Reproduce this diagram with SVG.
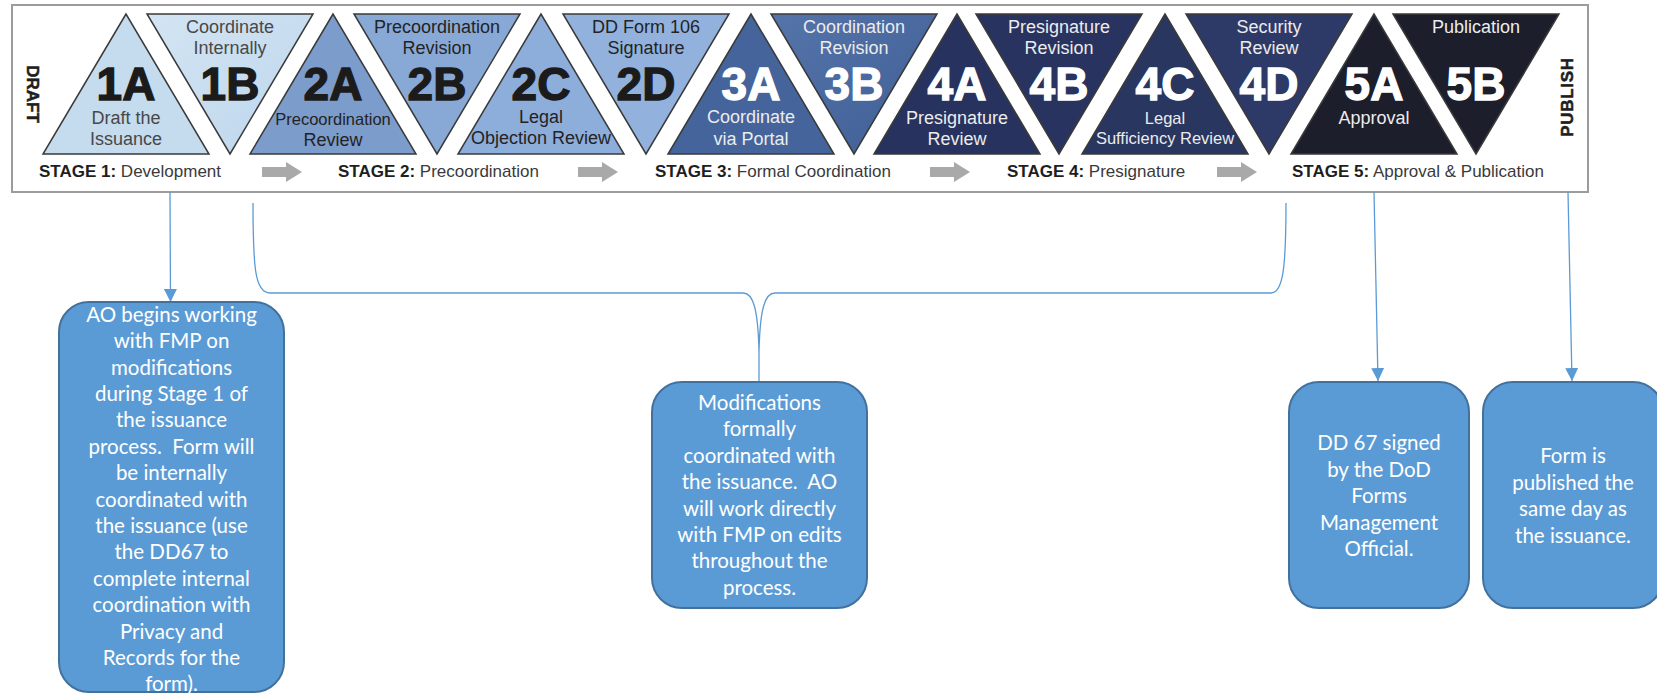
<svg xmlns="http://www.w3.org/2000/svg" width="1657" height="693" viewBox="0 0 1657 693">
<style>
.frame{fill:#fff;stroke:#9c9c9c;stroke-width:2}
.tri{stroke:#3a3a3a;stroke-width:1.5;stroke-linejoin:miter}
.big{font-family:"Liberation Sans",Arial,sans-serif;font-weight:bold;font-size:46px;text-anchor:middle;stroke-width:1.3}
.sm{font-family:"Liberation Sans",Arial,sans-serif;font-size:18px;text-anchor:middle}
.sm16{font-size:16.5px}
.bk{fill:#1b1b1b;stroke:#1b1b1b}
.wh{fill:#ffffff;stroke:#ffffff}
.g1{fill:#484848}
.g2{fill:#232323}
.lw{fill:#ececec}
.stg{font-family:"Liberation Sans",Arial,sans-serif;font-size:17px;fill:#3a3a3a}
.stg tspan.b{font-weight:bold;fill:#1e1e1e}
.vert{font-family:"Liberation Sans",Arial,sans-serif;font-weight:bold;font-size:17px;fill:#1e1e1e;text-anchor:middle;stroke:#1e1e1e;stroke-width:0.5}
.sarrow{fill:#a9a9a9}
.box{fill:#5b9bd5;stroke:#41719c;stroke-width:2}
.bt{font-family:Lato,"Liberation Sans",sans-serif;font-size:20.5px;fill:#ffffff;text-anchor:middle;white-space:pre}
.conn{fill:none;stroke:#5b9bd5;stroke-width:1.3}
</style>
<defs>
<marker id="ah" viewBox="0 0 10 10" refX="10" refY="5" markerWidth="13" markerHeight="13" markerUnits="userSpaceOnUse" orient="auto">
<path d="M0,0 L10,5 L0,10 z" fill="#5b9bd5"/>
</marker>
<linearGradient id="g1b" x1="0" y1="0" x2="1" y2="1">
<stop offset="0" stop-color="#d3e5f4"/><stop offset="1" stop-color="#bdd5eb"/>
</linearGradient>
<linearGradient id="g3b" x1="0" y1="0" x2="1" y2="1">
<stop offset="0" stop-color="#5574aa"/><stop offset="1" stop-color="#3f5e95"/>
</linearGradient>
</defs>

<rect class="frame" x="12" y="5" width="1576" height="187"/>

<g id="label-draft"><text class="vert" transform="translate(27,94) rotate(90)">DRAFT</text></g>
<g id="label-publish"><text class="vert" style="letter-spacing:0.7px" transform="translate(1573,97) rotate(-90)">PUBLISH</text></g>

<g id="step-1A">
<polygon class="tri" fill="#c5dbee" points="126,14 43,154 209,154"/>
<text class="big bk" x="126" y="100">1A</text>
<text class="sm g1" x="126" y="124">Draft the</text>
<text class="sm g1" x="126" y="145">Issuance</text>
</g>
<g id="step-1B">
<polygon class="tri" fill="url(#g1b)" points="147,14 313,14 230,154"/>
<text class="sm g1" x="230" y="33">Coordinate</text>
<text class="sm g1" x="230" y="54">Internally</text>
<text class="big bk" x="230" y="100">1B</text>
</g>
<g id="step-2A">
<polygon class="tri" fill="#7c9ccb" points="333,14 250,154 416,154"/>
<text class="big bk" x="333" y="100">2A</text>
<text class="sm sm16 g2" x="333" y="125">Precoordination</text>
<text class="sm g2" x="333" y="146">Review</text>
</g>
<g id="step-2B">
<polygon class="tri" fill="#88a8d6" points="354,14 520,14 437,154"/>
<text class="sm g2" x="437" y="33">Precoordination</text>
<text class="sm g2" x="437" y="54">Revision</text>
<text class="big bk" x="437" y="100">2B</text>
</g>
<g id="step-2C">
<polygon class="tri" fill="#8daddb" points="541,14 458,154 624,154"/>
<text class="big bk" x="541" y="100">2C</text>
<text class="sm g2" x="541" y="123">Legal</text>
<text class="sm g2" x="541" y="144">Objection Review</text>
</g>
<g id="step-2D">
<polygon class="tri" fill="#92b2dd" points="563,14 729,14 646,154"/>
<text class="sm g2" x="646" y="33">DD Form 106</text>
<text class="sm g2" x="646" y="54">Signature</text>
<text class="big bk" x="646" y="100">2D</text>
</g>
<g id="step-3A">
<polygon class="tri" fill="#44649b" points="751,14 668,154 834,154"/>
<text class="big wh" x="751" y="100">3A</text>
<text class="sm lw" x="751" y="123">Coordinate</text>
<text class="sm lw" x="751" y="145">via Portal</text>
</g>
<g id="step-3B">
<polygon class="tri" fill="url(#g3b)" points="771,14 937,14 854,154"/>
<text class="sm lw" x="854" y="33">Coordination</text>
<text class="sm lw" x="854" y="54">Revision</text>
<text class="big wh" x="854" y="100">3B</text>
</g>
<g id="step-4A">
<polygon class="tri" fill="#27335e" points="957,14 874,154 1040,154"/>
<text class="big wh" x="957" y="100">4A</text>
<text class="sm lw" x="957" y="124">Presignature</text>
<text class="sm lw" x="957" y="145">Review</text>
</g>
<g id="step-4B">
<polygon class="tri" fill="#28345f" points="976,14 1142,14 1059,154"/>
<text class="sm lw" x="1059" y="33">Presignature</text>
<text class="sm lw" x="1059" y="54">Revision</text>
<text class="big wh" x="1059" y="100">4B</text>
</g>
<g id="step-4C">
<polygon class="tri" fill="#293660" points="1165,14 1082,154 1248,154"/>
<text class="big wh" x="1165" y="100">4C</text>
<text class="sm sm16 lw" x="1165" y="124">Legal</text>
<text class="sm sm16 lw" x="1165" y="144">Sufficiency Review</text>
</g>
<g id="step-4D">
<polygon class="tri" fill="#2d3a68" points="1186,14 1352,14 1269,154"/>
<text class="sm lw" x="1269" y="33">Security</text>
<text class="sm lw" x="1269" y="54">Review</text>
<text class="big wh" x="1269" y="100">4D</text>
</g>
<g id="step-5A">
<polygon class="tri" fill="#1c1e2c" points="1374,14 1291,154 1457,154"/>
<text class="big wh" x="1374" y="100">5A</text>
<text class="sm lw" x="1374" y="124">Approval</text>
</g>
<g id="step-5B">
<polygon class="tri" fill="#1c1e2c" points="1393,14 1559,14 1476,154"/>
<text class="sm lw" x="1476" y="33">Publication</text>
<text class="big wh" x="1476" y="100">5B</text>
</g>

<g id="stage-labels">
<text class="stg" x="39" y="177"><tspan class="b">STAGE 1:</tspan> Development</text>
<text class="stg" x="338" y="177"><tspan class="b">STAGE 2:</tspan> Precoordination</text>
<text class="stg" x="655" y="177"><tspan class="b">STAGE 3:</tspan> Formal Coordination</text>
<text class="stg" x="1007" y="177"><tspan class="b">STAGE 4:</tspan> Presignature</text>
<text class="stg" x="1292" y="177"><tspan class="b">STAGE 5:</tspan> Approval &amp; Publication</text>
</g>
<g id="stage-arrows">
<path class="sarrow" d="M262,167 h24 v-5 l16,10 l-16,10 v-5 h-24 z"/>
<path class="sarrow" d="M578,167 h24 v-5 l16,10 l-16,10 v-5 h-24 z"/>
<path class="sarrow" d="M930,167 h24 v-5 l16,10 l-16,10 v-5 h-24 z"/>
<path class="sarrow" d="M1217,167 h24 v-5 l16,10 l-16,10 v-5 h-24 z"/>
</g>

<g id="connectors">
<line class="conn" x1="170" y1="192" x2="170.5" y2="302" marker-end="url(#ah)"/>
<path class="conn" d="M253,203 C253,268 255,293 270,293 L743,293 C753,293 758,308 759,352 L759,381 M759,352 C760,308 765,293 775,293 L1271,293 C1283,293 1286,268 1286,203"/>
<line class="conn" x1="1374" y1="192" x2="1378" y2="381" marker-end="url(#ah)"/>
<line class="conn" x1="1568" y1="192" x2="1572" y2="381" marker-end="url(#ah)"/>
</g>

<g id="note-stage1">
<rect class="box" x="59" y="302" width="225" height="390" rx="30"/>
<text class="bt" x="171.5" y="321.7">AO begins working</text>
<text class="bt" x="171.5" y="348.1">with FMP on</text>
<text class="bt" x="171.5" y="374.5">modifications</text>
<text class="bt" x="171.5" y="400.9">during Stage 1 of</text>
<text class="bt" x="171.5" y="427.3">the issuance</text>
<text class="bt" x="171.5" y="453.7">process.  Form will</text>
<text class="bt" x="171.5" y="480.1">be internally</text>
<text class="bt" x="171.5" y="506.5">coordinated with</text>
<text class="bt" x="171.5" y="532.9">the issuance (use</text>
<text class="bt" x="171.5" y="559.3">the DD67 to</text>
<text class="bt" x="171.5" y="585.7">complete internal</text>
<text class="bt" x="171.5" y="612.1">coordination with</text>
<text class="bt" x="171.5" y="638.5">Privacy and</text>
<text class="bt" x="171.5" y="664.9">Records for the</text>
<text class="bt" x="171.5" y="691.3">form).</text>
</g>

<g id="note-formal">
<rect class="box" x="652" y="382" width="215" height="226" rx="30"/>
<text class="bt" x="759.5" y="410">Modifications</text>
<text class="bt" x="759.5" y="436.4">formally</text>
<text class="bt" x="759.5" y="462.8">coordinated with</text>
<text class="bt" x="759.5" y="489.2">the issuance.  AO</text>
<text class="bt" x="759.5" y="515.6">will work directly</text>
<text class="bt" x="759.5" y="542">with FMP on edits</text>
<text class="bt" x="759.5" y="568.4">throughout the</text>
<text class="bt" x="759.5" y="594.8">process.</text>
</g>

<g id="note-dd67">
<rect class="box" x="1289" y="382" width="180" height="226" rx="30"/>
<text class="bt" x="1379" y="450">DD 67 signed</text>
<text class="bt" x="1379" y="476.5">by the DoD</text>
<text class="bt" x="1379" y="503">Forms</text>
<text class="bt" x="1379" y="529.5">Management</text>
<text class="bt" x="1379" y="556">Official.</text>
</g>

<g id="note-publish">
<rect class="box" x="1483" y="382" width="180" height="226" rx="30"/>
<text class="bt" x="1573" y="463">Form is</text>
<text class="bt" x="1573" y="489.5">published the</text>
<text class="bt" x="1573" y="516">same day as</text>
<text class="bt" x="1573" y="542.5">the issuance.</text>
</g>
</svg>
